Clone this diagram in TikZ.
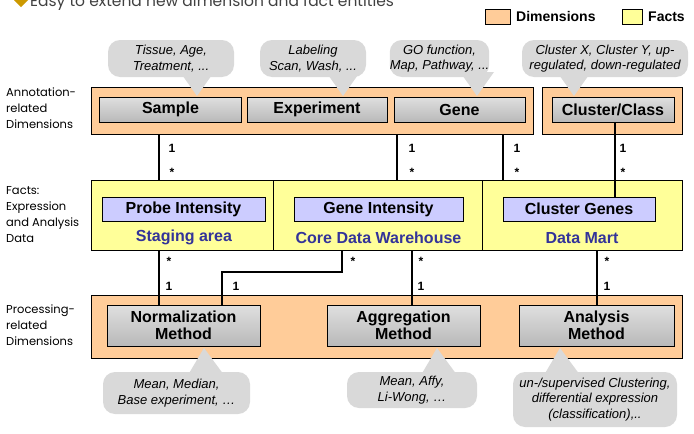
\documentclass[tikz,border=0pt]{standalone}
\usepackage{fontspec}
\setmainfont{Liberation Sans}
\newfontfamily\sidefont{Poppins}
\usetikzlibrary{calc}
\definecolor{dimorange}{RGB}{255,204,153}
\definecolor{factyellow}{RGB}{255,255,153}
\definecolor{lavender}{RGB}{204,204,255}
\definecolor{martblue}{RGB}{51,51,153}
\definecolor{bubblegray}{RGB}{217,217,217}
\definecolor{bulletgold}{RGB}{204,153,0}
\begin{document}
\begin{tikzpicture}[x=1pt,y=-1pt,font=\bfseries\fontsize{16}{17}\selectfont]
      \tikzset{dimbox/.style={draw, line width=0.8pt, fill=dimorange, inner sep=0pt},
        factbox/.style={draw, line width=0.8pt, fill=factyellow, inner sep=0pt},
        greybox/.style={draw, line width=0.7pt, top color=gray!25, middle color=white, bottom color=gray!55, inner sep=0pt, align=center},
        tablebox/.style={draw, line width=0.7pt, fill=lavender, inner sep=0pt, minimum height=24pt},
        areatext/.style={text=martblue},
        bubble/.style={fill=bubblegray, rounded corners=12pt, inner sep=0pt, align=center, font=\itshape\fontsize{13}{15.5}\selectfont},
        link/.style={line width=1.6pt},
        mult/.style={font=\bfseries\fontsize{12}{12}\selectfont, inner sep=0pt},
        sidetext/.style={font=\sidefont\fontsize{11.5}{16}\selectfont, align=left, anchor=west, inner sep=0pt}}
      \useasboundingbox (0,0) rectangle (694,434);
      \fill[bulletgold] (21,-7) -- (28,0) -- (21,7) -- (14,0) -- cycle;
      \node[anchor=base west, inner sep=0pt, text=black!75, font=\sidefont\fontsize{15.5}{15.5}\selectfont] (headline) at (30,6.5) {Easy to extend new dimension and fact entities};
      \node[dimbox, minimum width=25pt, minimum height=15pt] (keydim) at (497.5,16.5) {};
      \node[anchor=west, inner sep=0pt, font=\bfseries\fontsize{14}{14}\selectfont] (keydimtext) at (516,16.5) {Dimensions};
      \node[factbox, minimum width=20pt, minimum height=15pt] (keyfact) at (632,16.5) {};
      \node[anchor=west, inner sep=0pt, font=\bfseries\fontsize{14}{14}\selectfont] (keyfacttext) at (648,16.5) {Facts};
      \node[sidetext] (annolabel) at (6,108) {Annotation-\\related\\Dimensions};
      \node[sidetext] (factlabel) at (6,215) {Facts:\\Expression\\and Analysis\\Data};
      \node[sidetext] (proclabel) at (6,325) {Processing-\\related\\Dimensions};
      \node[dimbox, minimum width=442pt, minimum height=47pt] (annot) at (312,110.5) {};
      \node[dimbox, minimum width=140pt, minimum height=47pt] (clusterdim) at (612,110.5) {};
      \node[greybox, minimum width=142pt, minimum height=25pt] (sample) at (170.5,109.5) {Sample};
      \node[greybox, minimum width=140pt, minimum height=25pt] (experiment) at (317,109.5) {Experiment};
      \node[greybox, minimum width=131pt, minimum height=25pt] (gene) at (459.5,109.5) {Gene};
      \node[greybox, minimum width=122pt, minimum height=25pt] (cluster) at (613,109.5) {Cluster/Class};
      \node[factbox, minimum width=182pt, minimum height=70pt] (staging) at (182,215) {};
      \node[factbox, minimum width=209pt, minimum height=70pt] (core) at (377.5,215) {};
      \node[factbox, minimum width=200pt, minimum height=70pt] (mart) at (582,215) {};
      \node[tablebox, minimum width=163pt] (probe) at (183.5,209) {Probe Intensity};
      \node[tablebox, minimum width=169pt] (geneint) at (378.5,209) {Gene Intensity};
      \node[tablebox, minimum width=152pt] (cgenes) at (579,209) {Cluster Genes};
      \node[areatext] (stagingtext) at (184,237) {Staging area};
      \node[areatext] (coretext) at (378.5,238) {Core Data Warehouse};
      \node[areatext] (marttext) at (582,238) {Data Mart};
      \node[dimbox, minimum width=591pt, minimum height=63pt] (proc) at (386.5,326.5) {};
      \node[greybox, minimum width=153pt, minimum height=41pt] (norm) at (183.5,325.5) {Normalization\\Method};
      \node[greybox, minimum width=153pt, minimum height=41pt] (aggr) at (403.5,325.5) {Aggregation\\Method};
      \node[greybox, minimum width=155pt, minimum height=41pt] (analysis) at (596.5,325.5) {Analysis\\Method};
      \node[bubble, minimum width=126pt, minimum height=37pt] (tissue) at (171,58.5) {Tissue, Age,\\Treatment, ...};
      \node[bubble, minimum width=106pt, minimum height=37pt] (labeling) at (313,58.5) {Labeling\\Scan, Wash, ...};
      \node[bubble, minimum width=95pt, minimum height=37pt] (gofunc) at (439.5,58.5) {GO function,\\Map, Pathway, ...};
      \node[bubble, minimum width=166pt, minimum height=37pt] (clusterx) at (605,58.5) {Cluster X, Cluster Y, up-\\regulated, down-regulated};
      \node[bubble, minimum width=147pt, minimum height=42pt] (mean) at (176.5,393) {Mean, Median,\\Base experiment, \dots};
      \node[bubble, minimum width=130pt, minimum height=36pt] (affy) at (412,390) {Mean, Affy,\\Li-Wong, \dots};
      \node[bubble, minimum width=164pt, minimum height=55pt] (unsup) at (595,399.5) {un-/supervised Clustering,\\differential expression\\(classification),..};
      \coordinate (tiptissue) at (197,96);
      \coordinate (tiplabeling) at (343,96);
      \coordinate (tipgofunc) at (477,96);
      \coordinate (tipclusterx) at (574,96);
      \coordinate (tipmean) at (204,348);
      \coordinate (tipaffy) at (437,348);
      \coordinate (tipunsup) at (560,348);
      \foreach \t in {tiptissue,tiplabeling,tipgofunc,tipclusterx}
        \fill[bubblegray] ($(\t)+(-17,-24)$) -- (\t) -- ($(\t)+(17,-24)$) -- cycle;
      \foreach \t in {tipmean,tipaffy,tipunsup}
        \fill[bubblegray] ($(\t)+(-16,27)$) -- (\t) -- ($(\t)+(20,27)$) -- cycle;
      \draw[link] (annot.south -| 159,0) -- (staging.north -| 159,0);
      \draw[link] (annot.south -| 397,0) -- (core.north -| 397,0);
      \draw[link] (annot.south -| 503,0) -- (mart.north -| 503,0);
      \draw[link] (cluster.south -| 615,0) -- (cgenes.north -| 615,0);
      \draw[link] (staging.south -| 159,0) -- (norm.north -| 159,0);
      \draw[link] (core.south -| 342,0) -- (342,272) -- (222,272) -- (norm.north -| 222,0);
      \draw[link] (core.south -| 412,0) -- (aggr.north -| 412,0);
      \draw[link] (mart.south -| 597,0) -- (analysis.north -| 597,0);
      \foreach \x/\n in {172/a,412/b,517/c,623/d} {
        \node[mult] (one\n) at (\x,148) {1};
        \node[mult] (many\n) at (\x,172) {*};
      }
      \foreach \x/\n in {169/e,421/f,607/g} {
        \node[mult] (many\n) at (\x,261) {*};
        \node[mult] (one\n) at (\x,286) {1};
      }
      \node[mult] (manyh) at (353,261) {*};
      \node[mult] (oneh) at (236,286) {1};
    \end{tikzpicture}
\end{document}
